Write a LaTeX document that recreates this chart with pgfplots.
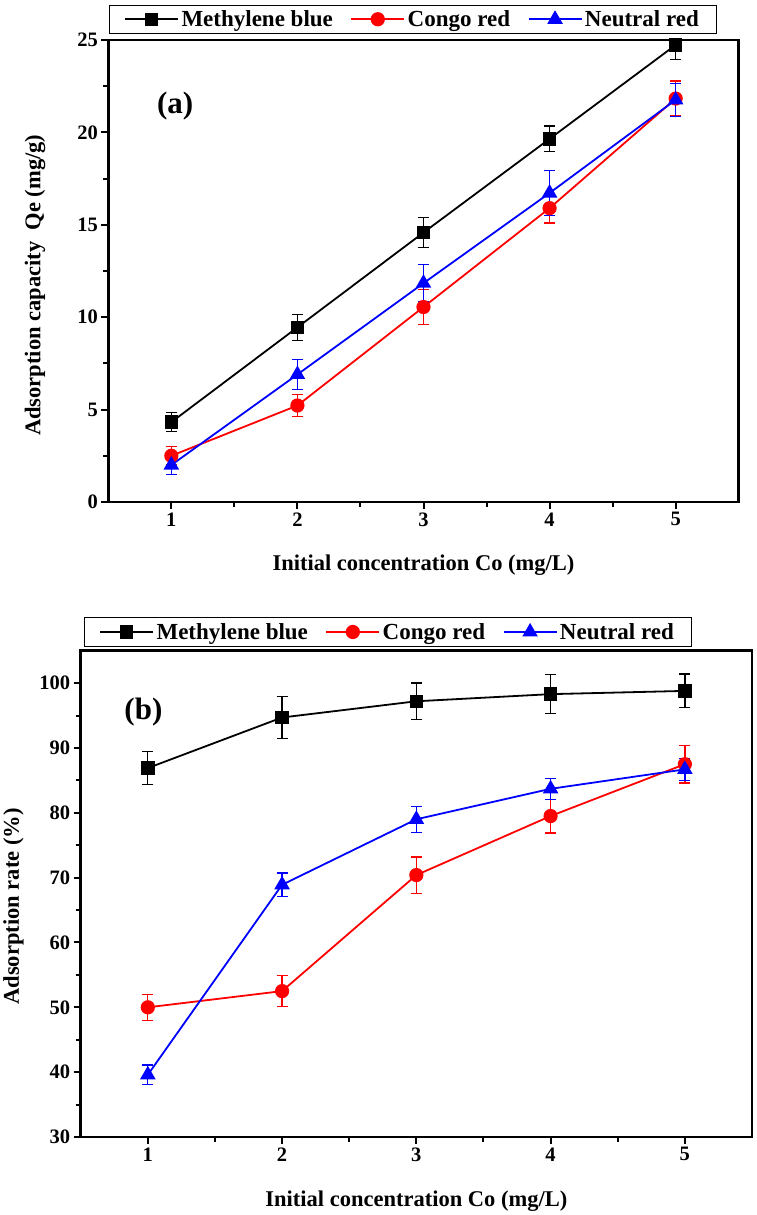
\documentclass[border=0pt]{standalone}
\usepackage{fontspec}
\setmainfont{Liberation Serif}
\usepackage{pgfplots}
\usepackage{pgfplotstable}
\pgfplotsset{compat=1.18}

\pgfplotstableread{
x y e
1 4.32 0.52
2 9.45 0.70
3 14.58 0.80
4 19.65 0.70
5 24.73 0.80
}\aMB
\pgfplotstableread{
x y e
1 2.50 0.50
2 5.22 0.60
3 10.55 0.95
4 15.90 0.80
5 21.83 0.95
}\aCR
\pgfplotstableread{
x y e
1 2.00 0.50
2 6.90 0.80
3 11.84 1.00
4 16.72 1.20
5 21.76 0.90
}\aNR
\pgfplotstableread{
x y e
1 86.9 2.5
2 94.7 3.2
3 97.2 2.8
4 98.3 3.0
5 98.8 2.6
}\bMB
\pgfplotstableread{
x y e
1 50.0 2.0
2 52.5 2.4
3 70.4 2.8
4 79.5 2.6
5 87.5 2.9
}\bCR
\pgfplotstableread{
x y e
1 39.6 1.5
2 68.9 1.8
3 79.0 2.0
4 83.7 1.6
5 86.7 1.7
}\bNR

\newcommand\labfont{\fontsize{22.5}{22.5}\selectfont\bfseries}
\pgfplotsset{
 myaxis/.style={
  scale only axis,
  xmin=0.5, xmax=5.5,
  xtick={1,2,3,4,5},
  minor x tick num=1,
  minor y tick num=1,
  axis line style={line width=2.6pt},
  every tick/.style={line width=2pt, black},
  major tick length=7pt, minor tick length=5pt,
  tick align=outside,
  xtick pos=bottom, ytick pos=left,
  /pgf/number format/assume math mode=true,
  tick label style={font=\fontsize{20.5}{20.5}\selectfont\bfseries},
  legend columns=3,
  legend cell align=left,
  legend style={draw=black, line width=1pt,
    font=\fontsize{23}{23}\selectfont\bfseries,
    inner xsep=15pt, inner ysep=4.5pt,
    nodes={inner xsep=2.5pt, inner ysep=1pt},
    /tikz/every even column/.append style={column sep=15pt}},
  legend image code/.code={\draw[mark repeat=2,mark phase=2,##1] plot coordinates {(0pt,0pt) (26.5pt,0pt) (53pt,0pt)};},
 },
 mbstyle/.style={black, line width=1.8pt, mark=square*, mark size=5.8pt, mark options={solid},
   error bars/.cd, y dir=both, y explicit, error bar style={line width=1.3pt}, error mark options={line width=1.3pt, mark size=5.5pt, rotate=90}},
 crstyle/.style={red, line width=1.8pt, mark=*, mark size=6.2pt, mark options={solid},
   error bars/.cd, y dir=both, y explicit, error bar style={line width=1.3pt}, error mark options={line width=1.3pt, mark size=5.5pt, rotate=90}},
 nrstyle/.style={blue, line width=1.8pt, mark=triangle*, mark size=7.2pt, mark options={solid},
   error bars/.cd, y dir=both, y explicit, error bar style={line width=1.3pt}, error mark options={line width=1.3pt, mark size=5.5pt, rotate=90}},
}

\begin{document}
\begin{tikzpicture}
\useasboundingbox (0pt,0pt) rectangle (756pt,1215pt);
% panel (a)
\begin{axis}[myaxis,
  at={(108.3pt,713pt)}, anchor=south west,
  width=630.4pt, height=462pt,
  ymin=0, ymax=25, ytick={0,5,10,15,20,25},
  xlabel={Initial concentration Co (mg/L)},
  ylabel={Adsorption capacity\ \ Qe (mg/g)},
  every axis x label/.style={at={(axis description cs:0.5,-0.136)}, anchor=center, font=\labfont},
  every axis y label/.style={at={(axis description cs:-0.1163,0.469)}, anchor=center, rotate=90, font=\labfont},
  legend style={at={(axis description cs:0.483,1)}, anchor=south, yshift=6pt},
]
\addplot[mbstyle] table[x=x,y=y,y error=e] {\aMB};
\addplot[crstyle] table[x=x,y=y,y error=e] {\aCR};
\addplot[nrstyle] table[x=x,y=y,y error=e] {\aNR};
\legend{Methylene blue, Congo red, Neutral red}
\node[font=\fontsize{31}{31}\selectfont\bfseries] at (axis cs:1.03,21.45) {(a)};
\end{axis}
% panel (b)
\begin{axis}[myaxis,
  at={(80.7pt,78pt)}, anchor=south west,
  width=671.3pt, height=486.3pt,
  ymin=30, ymax=105, ytick={30,40,50,60,70,80,90,100},
  xlabel={Initial concentration Co (mg/L)},
  ylabel={Adsorption rate (\%)},
  every axis x label/.style={at={(axis description cs:0.5,-0.133)}, anchor=center, font=\labfont},
  every axis y label/.style={at={(axis description cs:-0.1,0.474)}, anchor=center, rotate=90, font=\labfont},
  legend style={at={(axis description cs:0.4575,1)}, anchor=south, yshift=4pt},
]
\addplot[mbstyle] table[x=x,y=y,y error=e] {\bMB};
\addplot[crstyle] table[x=x,y=y,y error=e] {\bCR};
\addplot[nrstyle] table[x=x,y=y,y error=e] {\bNR};
\legend{Methylene blue, Congo red, Neutral red}
\node[font=\fontsize{31}{31}\selectfont\bfseries] at (axis cs:0.967,95.5) {(b)};
\end{axis}
\end{tikzpicture}
\end{document}
